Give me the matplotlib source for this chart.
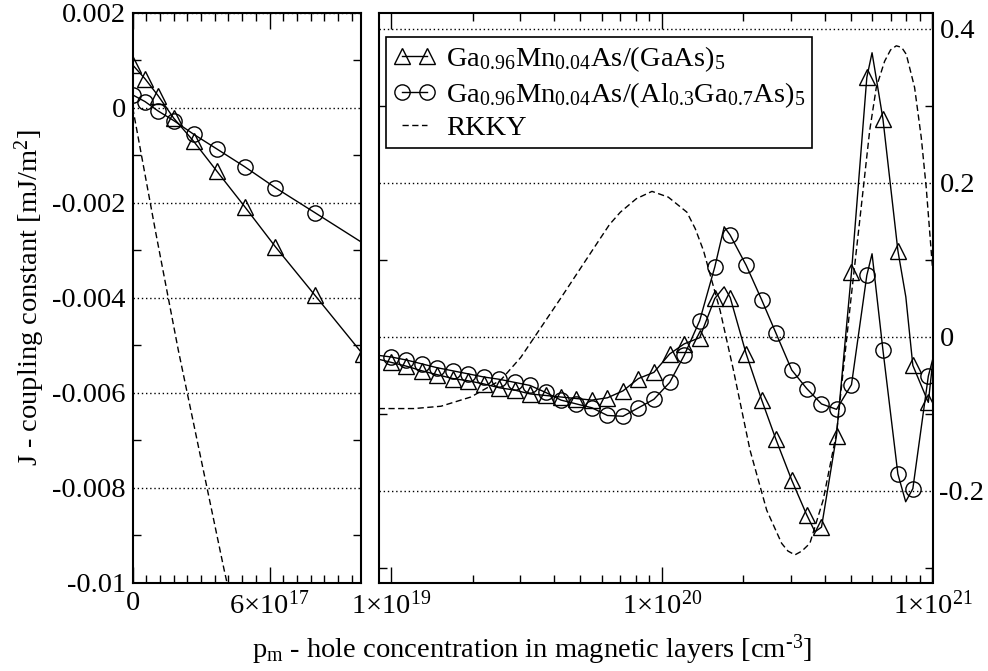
import numpy as np
import matplotlib
matplotlib.use("Agg")
import matplotlib.pyplot as plt
from matplotlib.lines import Line2D
from matplotlib.ticker import FixedLocator, FixedFormatter, NullFormatter

plt.rcParams['font.family'] = ['Liberation Serif', 'DejaVu Serif']
plt.rcParams['mathtext.fontset'] = 'custom'
plt.rcParams['mathtext.rm'] = 'Liberation Serif'
plt.rcParams['mathtext.it'] = 'Liberation Serif:italic'
plt.rcParams['mathtext.bf'] = 'Liberation Serif:bold'
plt.rcParams['axes.unicode_minus'] = False

# --- linke Teilgrafik (lineare Achse) ---
p_lo_gaas = [0, 5.4e16, 1.12e17, 1.8e17, 2.68e17, 3.7e17, 4.91e17, 6.25e17, 8.0e17, 1.01e18]
j_lo_gaas = [0.0009, 0.00061, 0.00025, -0.00022, -0.00071, -0.00134, -0.00208, -0.00292, -0.00395, -0.00519]
p_lo_algaas = [0, 5.4e16, 1.12e17, 1.8e17, 2.68e17, 3.7e17, 4.91e17, 6.25e17, 8.0e17, 1.04e18]
j_lo_algaas = [0.00027, 0.00013, -0.00007, -0.00027, -0.00056, -0.00087, -0.00124, -0.00168, -0.00221, -0.00294]
p_lo_rkky = [0, 1e17, 2e17, 3e17, 4e17, 4.6e17]
j_lo_rkky = [0, -0.0026, -0.0051, -0.0074, -0.0097, -0.0110]

# --- rechte Teilgrafik (log. Achse), Symbolpositionen ---
p_hi = [1.0e19, 1.14e19, 1.30e19, 1.48e19, 1.69e19, 1.93e19, 2.20e19, 2.51e19, 2.86e19,
        3.26e19, 3.72e19, 4.24e19, 4.84e19, 5.52e19, 6.30e19, 7.19e19, 8.20e19, 9.35e19,
        1.07e20, 1.21e20, 1.38e20, 1.57e20, 1.79e20, 2.05e20, 2.34e20, 2.64e20, 3.02e20,
        3.43e20, 3.89e20, 4.42e20, 5.02e20, 5.72e20, 6.56e20, 7.45e20, 8.46e20, 9.65e20]
j_hi_gaas = [-0.033, -0.038, -0.044, -0.049, -0.054, -0.057, -0.061, -0.066, -0.069,
             -0.074, -0.076, -0.078, -0.080, -0.082, -0.079, -0.070, -0.054, -0.046,
             -0.022, -0.009, -0.001, 0.050, 0.051, -0.022, -0.082, -0.133, -0.186,
             -0.231, -0.247, -0.128, 0.084, 0.337, 0.283, 0.112, -0.037, -0.085]
j_hi_algaas = [-0.026, -0.030, -0.035, -0.040, -0.044, -0.048, -0.052, -0.055, -0.059,
               -0.063, -0.072, -0.082, -0.087, -0.092, -0.102, -0.103, -0.092, -0.081,
               -0.059, -0.024, 0.021, 0.091, 0.132, 0.093, 0.048, 0.005, -0.043,
               -0.067, -0.087, -0.094, -0.062, 0.080, -0.017, -0.178, -0.197, -0.051]
# zusaetzliche Stuetzstellen der Linien (zwischen den Symbolen)
p_gaas_extra = [9.0e18, 1.70e20, 3.68e20, 5.98e20, 7.97e20, 1.0e21]
j_gaas_extra = [-0.029, 0.065, -0.253, 0.369, 0.052, -0.035]
p_algaas_extra = [9.0e18, 1.70e20, 5.98e20, 7.96e20, 1.0e21]
j_algaas_extra = [-0.024, 0.143, 0.108, -0.214, -0.030]

p_hi_rkky = [9.0e18, 1.215e19, 1.528e19, 1.971e19, 2.542e19, 3.013e19, 3.517e19, 4.228e19,
             5.85e19, 6.41e19, 7.03e19, 8.055e19, 9.2e19, 1.057e20, 1.238e20, 1.329e20,
             1.426e20, 1.643e20, 1.839e20, 2.118e20, 2.441e20, 2.772e20, 2.924e20, 3.102e20,
             3.293e20, 3.524e20, 3.944e20, 4.419e20, 4.989e20, 5.384e20, 5.861e20, 6.2e20,
             6.655e20, 7.0e20, 7.349e20, 7.69e20, 8.0e20, 8.586e20, 9.088e20, 9.48e20, 1.0e21]
j_hi_rkky = [-0.093, -0.093, -0.090, -0.078, -0.056, -0.0266, 0.0084, 0.050,
             0.125, 0.146, 0.162, 0.1795, 0.189, 0.1815, 0.162, 0.1406,
             0.112, 0.034, -0.043, -0.147, -0.225, -0.268, -0.278, -0.283,
             -0.278, -0.268, -0.212, -0.125, 0.047, 0.151, 0.268, 0.324,
             0.358, 0.3727, 0.378, 0.376, 0.367, 0.324, 0.259, 0.194, 0.09]

lab_gaas = r'Ga$_{0.96}$Mn$_{0.04}$As/(GaAs)$_5$'
lab_algaas = r'Ga$_{0.96}$Mn$_{0.04}$As/(Al$_{0.3}$Ga$_{0.7}$As)$_5$'


def merge(p1, j1, p2, j2):
    p = np.concatenate([p1, p2])
    j = np.concatenate([j1, j2])
    o = np.argsort(p)
    return p[o], j[o]


fs = 20.5
lw = 1.0
ms = 11
dash = (0, (4.5, 2.5))
grid_ls = (0, (1, 2))

fig = plt.figure(figsize=(9.88, 6.71), dpi=100)
axl = fig.add_axes([132.7 / 988, 1 - 583 / 671, (360.7 - 132.7) / 988, (583 - 12.7) / 671])
axr = fig.add_axes([378.7 / 988, 1 - 583 / 671, (932.5 - 378.7) / 988, (583 - 12.7) / 671])

# linke Achse
axl.plot(p_lo_gaas, j_lo_gaas, color='k', lw=lw, marker='^', ms=ms, mfc='none', mew=1.0)
axl.plot(p_lo_algaas, j_lo_algaas, color='k', lw=lw, marker='o', ms=ms, mfc='none', mew=1.0)
axl.plot(p_lo_rkky, j_lo_rkky, color='k', lw=lw, ls=dash)
axl.set_xlim(0, 1e18)
axl.set_ylim(-0.01, 0.002)
yl = [0.002, 0, -0.002, -0.004, -0.006, -0.008, -0.01]
axl.yaxis.set_major_locator(FixedLocator(yl))
axl.yaxis.set_major_formatter(FixedFormatter(['0.002', '0', '-0.002', '-0.004', '-0.006', '-0.008', '-0.01']))
axl.yaxis.set_minor_locator(FixedLocator([0.001, -0.001, -0.003, -0.005, -0.007, -0.009]))
axl.xaxis.set_major_locator(FixedLocator([0, 6e17]))
axl.xaxis.set_major_formatter(FixedFormatter(['0', '6×10$^{17}$']))
axl.xaxis.set_minor_locator(FixedLocator(np.arange(1, 17) * 6e16))
axl.grid(axis='y', which='major', color='k', lw=1.0, ls=grid_ls)

# rechte Achse
pg, jg = merge(p_hi, j_hi_gaas, p_gaas_extra, j_gaas_extra)
pa, ja = merge(p_hi, j_hi_algaas, p_algaas_extra, j_algaas_extra)
axr.plot(pg, jg, color='k', lw=lw)
axr.plot(pa, ja, color='k', lw=lw)
axr.plot(p_hi, j_hi_gaas, ls='none', marker='^', ms=ms, mfc='none', mec='k', mew=1.0)
axr.plot(p_hi, j_hi_algaas, ls='none', marker='o', ms=ms, mfc='none', mec='k', mew=1.0)
axr.plot(p_hi_rkky, j_hi_rkky, color='k', lw=lw, ls=dash)
axr.set_xscale('log')
axr.set_xlim(9.0e18, 1.0e21)
axr.set_ylim(-0.3195, 0.421)
axr.xaxis.set_major_locator(FixedLocator([1e19, 1e20, 1e21]))
axr.xaxis.set_major_formatter(FixedFormatter(['1×10$^{19}$', '1×10$^{20}$', '1×10$^{21}$']))
axr.xaxis.set_minor_locator(FixedLocator([k * 10.0 ** e for e in (19, 20) for k in range(2, 10)]))
axr.xaxis.set_minor_formatter(NullFormatter())
axr.yaxis.set_major_locator(FixedLocator([0.4, 0.2, 0, -0.2]))
axr.yaxis.set_major_formatter(FixedFormatter(['0.4', '0.2', '0', '-0.2']))
axr.yaxis.set_minor_locator(FixedLocator([0.3, 0.1, -0.1, -0.3]))
axr.grid(axis='y', which='major', color='k', lw=1.0, ls=grid_ls)
axr.yaxis.tick_right()

for ax in (axl, axr):
    for s in ax.spines.values():
        s.set_linewidth(1.5)
    ax.tick_params(axis='x', which='both', direction='in', top=True, bottom=True,
                   width=1.0, labelsize=fs, pad=6)
    ax.tick_params(axis='x', which='major', length=11.5)
    ax.tick_params(axis='x', which='minor', length=5.8)
    ax.tick_params(axis='y', which='major', length=0, labelsize=fs, pad=5)
    ax.tick_params(axis='y', which='minor', direction='in', left=True, right=True,
                   length=5.5, width=1.0)
axr.tick_params(axis='y', which='major', labelleft=False, labelright=True)

handles = [Line2D([], [], color='k', lw=lw, marker='^', ms=ms, mfc='none', mew=1.0),
           Line2D([], [], color='k', lw=lw, marker='o', ms=ms, mfc='none', mew=1.0),
           Line2D([], [], color='k', lw=lw, ls=dash)]
leg = axr.legend(handles, [lab_gaas, lab_algaas, 'RKKY'], loc='upper left',
                 bbox_to_anchor=(0.013, 0.957), borderaxespad=0, numpoints=2,
                 fontsize=fs, handlelength=1.5, handletextpad=0.35, labelspacing=0.2,
                 borderpad=0.25, fancybox=False, framealpha=1, edgecolor='k')
leg.get_frame().set_linewidth(1.2)

fig.text(30 / 988, 1 - 298 / 671, 'J - coupling constant [mJ/m$^2$]', rotation=90,
         ha='center', va='center', fontsize=fs)
fig.text(532 / 988, 1 - 650 / 671, 'p$_{\\rm m}$ - hole concentration in magnetic layers [cm$^{\\text{-3}}$]',
         ha='center', va='center', fontsize=fs)

fig.savefig('out.png', dpi=100)
